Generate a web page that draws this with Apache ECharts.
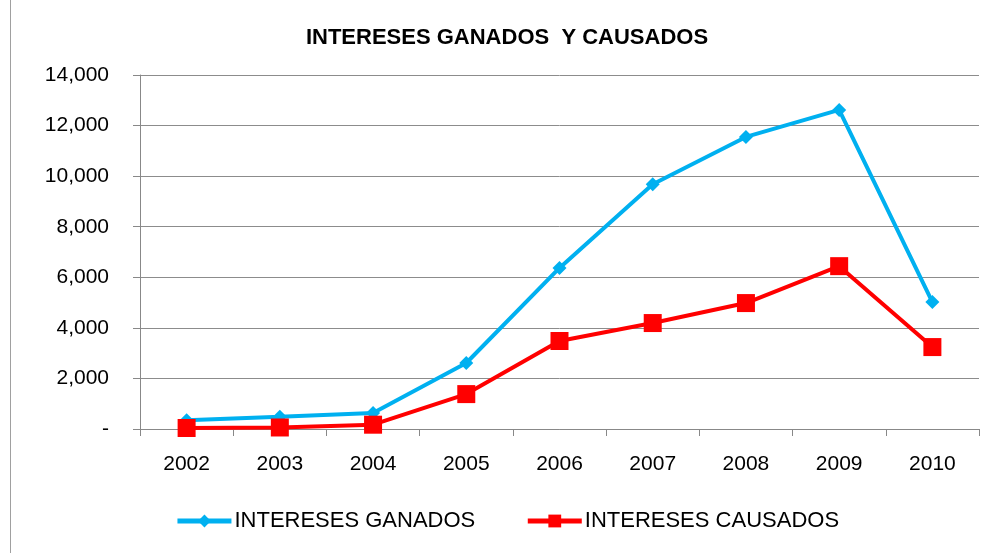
<!DOCTYPE html>
<html>
<head>
<meta charset="utf-8">
<script src="https://cdn.jsdelivr.net/npm/echarts@6/dist/echarts.min.js"></script>
<style>
  html, body { margin: 0; padding: 0; background: #fff; }
  #chart { height: 553px; box-sizing: border-box; border-left: 1px solid #a0a0a0; margin-left: 10px; width: 993px; }
</style>
</head>
<body>
<div id="chart"></div>
<script>
// datos
const years = ['2002', '2003', '2004', '2005', '2006', '2007', '2008', '2009', '2010']
const ganados = [350, 480, 630, 2610, 6370, 9680, 11550, 12620, 5020]
const causados = [40, 60, 170, 1380, 3480, 4190, 4980, 6440, 3240]

const labelFont = 'Liberation Sans, Arial, sans-serif'
let myChart = echarts.init(document.getElementById('chart'))
myChart.setOption({
  animation: false,
  title: {
    text: 'INTERESES GANADOS  Y CAUSADOS',
    left: 'center',
    top: 22,
    textStyle: { fontFamily: labelFont, fontWeight: 'bold', fontSize: 22, color: '#000' }
  },
  grid: { left: 129, right: 24, top: 75, bottom: 124 },
  legend: {
    bottom: 16,
    left: 'center',
    itemWidth: 54,
    itemHeight: 16,
    itemGap: 50,
    lineStyle: { width: 5 },
    textStyle: { fontFamily: labelFont, fontSize: 22, color: '#000', padding: [0, 0, 0, -2] },
    data: ['INTERESES GANADOS', 'INTERESES CAUSADOS']
  },
  xAxis: {
    type: 'category',
    data: years,
    boundaryGap: true,
    axisLine: { lineStyle: { color: '#888', width: 1 } },
    axisTick: { show: true, length: 7, lineStyle: { color: '#888' } },
    axisLabel: { fontFamily: labelFont, fontSize: 21, color: '#000', margin: 25 }
  },
  yAxis: {
    type: 'value',
    min: 0,
    max: 14000,
    interval: 2000,
    axisLine: { show: true, lineStyle: { color: '#888', width: 1 } },
    axisTick: { show: true, length: 7, lineStyle: { color: '#888' } },
    splitLine: { lineStyle: { color: '#8c8c8c', width: 1 } },
    axisLabel: {
      fontFamily: labelFont, fontSize: 21, color: '#000', margin: 31,
      formatter: v => v === 0 ? '-' : v.toLocaleString('en-US')
    }
  },
  series: [
    {
      name: 'INTERESES GANADOS',
      type: 'line',
      data: ganados,
      symbol: 'diamond',
      symbolSize: 14,
      lineStyle: { color: '#00B0F0', width: 4 },
      itemStyle: { color: '#00B0F0' }
    },
    {
      name: 'INTERESES CAUSADOS',
      type: 'line',
      data: causados,
      symbol: 'rect',
      symbolSize: 18,
      lineStyle: { color: '#FF0000', width: 4 },
      itemStyle: { color: '#FF0000' }
    }
  ]
})
</script>
</body>
</html>
